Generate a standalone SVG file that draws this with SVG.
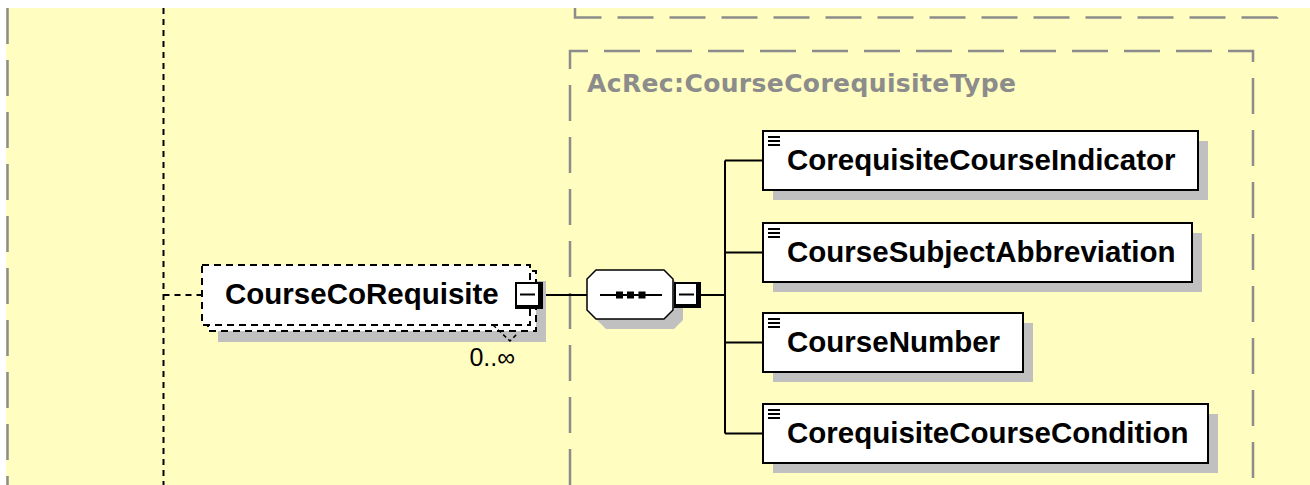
<svg xmlns="http://www.w3.org/2000/svg" width="1310" height="485" viewBox="0 0 1310 485">
<defs>
<style>
.frame{fill:none;stroke:#8c8c8c;stroke-width:2.5;stroke-dasharray:36 16}
.conn{fill:none;stroke:#000;stroke-width:2}
.dot{fill:none;stroke:#000;stroke-width:2;stroke-dasharray:6 5}
.shadow{fill:#c0c0c0}
.box{fill:#fff;stroke:#000;stroke-width:2}
.dbox{fill:#fff;stroke:#000;stroke-width:2;stroke-dasharray:7 5}
.lbl{font-family:"Liberation Sans",Arial,sans-serif;font-weight:bold;font-size:29.5px;fill:#000}
.title{font-family:"DejaVu Sans","Liberation Sans",sans-serif;font-weight:bold;font-size:25px;fill:#8c8c8c}
.card{font-family:"Liberation Sans",Arial,sans-serif;font-size:25px;fill:#000}
.icon{stroke:#000;stroke-width:2}
</style>
</defs>
<rect x="0" y="0" width="1310" height="485" fill="#fff"/>
<rect x="6" y="8" width="1304" height="477" fill="#fffdc0"/>

<g id="frames">
<path class="frame" d="M7.5,8 V485"/>
<path class="frame" d="M575,8 V17.5 H1277 V8"/>
<path class="frame" d="M570,485 V51 H1253 V485"/>
<text class="title" x="587" y="92" textLength="429" lengthAdjust="spacing">AcRec:CourseCorequisiteType</text>
</g>

<g id="connectors">
<path class="dot" d="M163.5,8 V485"/>
<path class="dot" d="M163.5,295 H202"/>
<path class="conn" d="M543,295 H587"/>
<path class="conn" d="M700,295 H725"/>
<path class="conn" d="M725,160.5 V433.5"/>
<path class="conn" d="M725,160.5 H763 M725,252.5 H763 M725,342.5 H763 M725,433.5 H763"/>
</g>

<g id="node-CourseCoRequisite">
<rect class="shadow" x="218" y="281" width="328" height="61"/>
<rect class="dbox" x="208" y="271" width="328" height="60"/>
<rect class="dbox" x="202" y="265" width="328" height="60"/>
<polyline points="493,325 510,341 517,334" fill="none" stroke="#000" stroke-width="1.5" stroke-dasharray="4 3"/>
<text class="lbl" x="225" y="304">CourseCoRequisite</text>
<rect x="515" y="282" width="28" height="27" fill="#000"/>
<rect x="517" y="284" width="21" height="21" fill="#fff"/>
<path d="M520,294.5 H535" stroke="#000" stroke-width="2"/>
<text class="card" x="515" y="366" text-anchor="end">0..∞</text>
</g>

<g id="sequence">
<polygon class="shadow" points="606,280 674,280 683,289 683,320 674,329 606,329 597,320 597,289"/>
<polygon points="596,270 664,270 673,279 673,310 664,319 596,319 587,310 587,279" fill="#fff" stroke="#000" stroke-width="1.5"/>
<path d="M600,295 H662" stroke="#000" stroke-width="2"/>
<rect x="616" y="291.5" width="7" height="7" fill="#000"/>
<rect x="627" y="291.5" width="7" height="7" fill="#000"/>
<rect x="638.5" y="291.5" width="7" height="7" fill="#000"/>
<rect x="674" y="282" width="27" height="26" fill="#000"/>
<rect x="676" y="284" width="20" height="20" fill="#fff"/>
<path d="M679,294.5 H694" stroke="#000" stroke-width="2"/>
</g>

<g id="node-CorequisiteCourseIndicator">
<rect class="shadow" x="773" y="141" width="435" height="59"/>
<rect class="box" x="763" y="131" width="435" height="59"/>
<path class="icon" d="M768,137 H780 M768,141 H780 M768,145 H780"/>
<text class="lbl" x="787" y="169.5">CorequisiteCourseIndicator</text>
</g>

<g id="node-CourseSubjectAbbreviation">
<rect class="shadow" x="773" y="233" width="429" height="59"/>
<rect class="box" x="763" y="223" width="429" height="59"/>
<path class="icon" d="M768,229 H780 M768,233 H780 M768,237 H780"/>
<text class="lbl" x="787" y="261.5">CourseSubjectAbbreviation</text>
</g>

<g id="node-CourseNumber">
<rect class="shadow" x="773" y="323" width="260" height="59"/>
<rect class="box" x="763" y="313" width="260" height="59"/>
<path class="icon" d="M768,319 H780 M768,323 H780 M768,327 H780"/>
<text class="lbl" x="787" y="351.5">CourseNumber</text>
</g>

<g id="node-CorequisiteCourseCondition">
<rect class="shadow" x="773" y="414" width="445" height="59"/>
<rect class="box" x="763" y="404" width="445" height="59"/>
<path class="icon" d="M768,410 H780 M768,414 H780 M768,418 H780"/>
<text class="lbl" x="787" y="442.5">CorequisiteCourseCondition</text>
</g>
</svg>
